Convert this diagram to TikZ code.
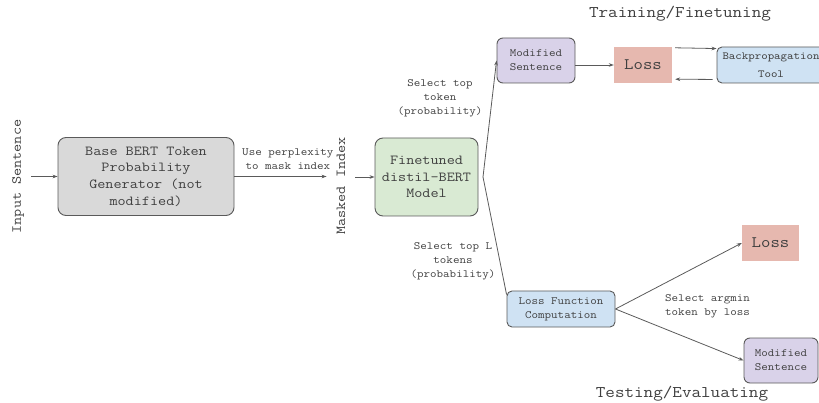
\documentclass[tikz,border=0pt]{standalone}
\usepackage{fontspec}
\setmainfont[FakeStretch=1.14]{Latin Modern Mono}
\usetikzlibrary{arrows.meta}

\definecolor{txt}{HTML}{3F3F3F}
\definecolor{edge}{HTML}{5A5A5A}
\definecolor{greyfill}{HTML}{D9D9D9}
\definecolor{greenfill}{HTML}{D9EAD3}
\definecolor{purplefill}{HTML}{D9D2E9}
\definecolor{bluefill}{HTML}{CFE2F3}
\definecolor{redfill}{HTML}{E6B8AF}

\newcommand\fsBox{\fontsize{13.8}{16.7}\selectfont}
\newcommand\fsSmall{\fontsize{11.1}{14}\selectfont}
\newcommand\fsTiny{\fontsize{10.8}{18}\selectfont}
\newcommand\fsLoss{\fontsize{16}{19}\selectfont}
\newcommand\fsTitle{\fontsize{16.3}{19}\selectfont}

\begin{document}
\begin{tikzpicture}[x=1pt, y=-1pt, >={Stealth[length=5pt,width=3.6pt]}, every node/.style={text=txt},
    blk/.style={draw=edge, line width=0.9pt, rounded corners=6pt, align=center, inner sep=0pt},
    flat/.style={align=center, inner sep=0pt},
    lbl/.style={align=center, font=\fsSmall, inner sep=1pt},
    side/.style={rotate=90, font=\fsBox},
    link/.style={draw=edge, line width=0.8pt}]
    \useasboundingbox (0,0) rectangle (819,403);
    \clip (0,0) rectangle (819,403);

    % left half: BERT pipeline
    \node[side, inner sep=7pt] (inp) at (18,176.5) {Input Sentence};
    \node[blk, fill=greyfill, rounded corners=8pt, minimum width=176pt, minimum height=78pt, font=\fsBox] (base) at (146,176.5) {Base BERT Token\\Probability\\Generator (not\\modified)};
    \node[side, inner sep=10pt] (mask) at (341,186) {Masked Index};
    \node[blk, fill=greenfill, rounded corners=8pt, minimum width=103pt, minimum height=78pt, font=\fsBox] (fine) at (426.5,177) {Finetuned\\distil-BERT\\Model};
    \coordinate (fork) at (483,177);

    \draw[link, ->] (inp) -- (base);
    \draw[link, ->] (base) -- node[lbl, above=6pt, pos=0.58] {Use perplexity\\to mask index} (base -| mask.north);
    \draw[link, ->] (mask.south |- fine) -- (fine);

    \node[lbl] (pick1) at (440,98) {Select top\\token\\(probability)};
    \node[lbl] (pickL) at (453,261) {Select top L\\tokens\\(probability)};

    % training branch
    \node[font=\fsTitle] (train) at (680,14) {Training/Finetuning};
    \node[blk, fill=purplefill, minimum width=78pt, minimum height=45pt, font=\fsSmall] (mod1) at (536,60.5) {Modified\\Sentence};
    \node[flat, fill=redfill, minimum width=58pt, minimum height=36pt, font=\fsLoss] (loss1) at (643,65) {Loss};
    \node[blk, fill=bluefill, rounded corners=5pt, minimum width=108pt, minimum height=36pt, font=\fsTiny] (back) at (771,65) {Backpropagation\\Tool};

    \draw[link, ->] (fork) -- (mod1.west);
    \draw[link, ->] (mod1.east |- loss1) -- (loss1);
    \draw[link, ->] ([shift={(3,1)}]loss1.north east) -- ([shift={(0,2)}]back.north west);
    \draw[link, ->] ([shift={(-4,-4)}]back.south west) -- ([shift={(3,-4)}]loss1.south east);

    % testing branch
    \node[font=\fsTitle] (test) at (682,394) {Testing/Evaluating};
    \node[blk, fill=bluefill, rounded corners=5pt, minimum width=108pt, minimum height=36pt, font=\fsSmall] (lossfn) at (561,309) {Loss Function\\Computation};
    \node[flat, fill=redfill, minimum width=57pt, minimum height=36pt, font=\fsLoss] (loss2) at (770.5,243) {Loss};
    \node[blk, fill=purplefill, minimum width=74pt, minimum height=45pt, font=\fsSmall] (mod2) at (781,360.5) {Modified\\Sentence};
    \node[lbl, anchor=west, align=left] (argmin) at (664,306) {Select argmin\\token by loss};

    \draw[link] (fork) -- ([shift={(0,4)}]lossfn.north west);
    \draw[link, ->] (lossfn.east) -- (loss2.west);
    \draw[link, ->] (lossfn.east) -- (mod2.west);
\end{tikzpicture}
\end{document}
